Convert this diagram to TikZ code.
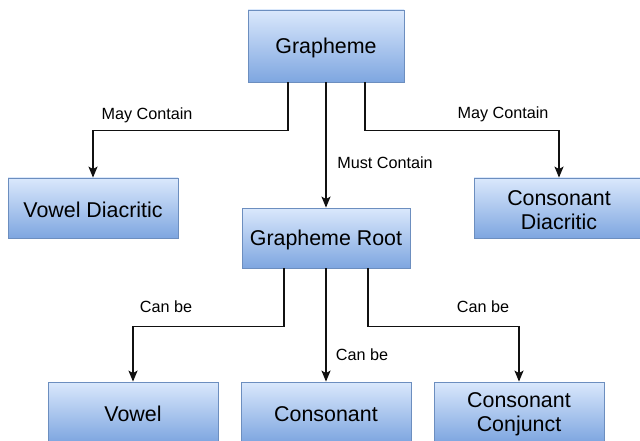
\documentclass[tikz,border=0pt]{standalone}
\usepackage{fontspec}
\setmainfont{Liberation Sans}
\usetikzlibrary{arrows.meta,calc}
\definecolor{boxtop}{HTML}{DAE8FC}
\definecolor{boxbot}{HTML}{7EA6E0}
\definecolor{boxline}{HTML}{6C8EBF}
\definecolor{lineblk}{HTML}{111111}
\tikzset{
  box/.style={draw=boxline, line width=0.8pt, top color=boxtop, bottom color=boxbot,
    minimum width=#1, inner sep=0pt},
  txt/.style={align=center, inner sep=0pt, font=\fontsize{21.4}{25}\selectfont},
  arr/.style={draw=lineblk, line width=1.6pt, -{Stealth[length=11pt,width=9pt,inset=2.5pt]}},
  lbl/.style={font=\fontsize{16.2}{19}\selectfont, inner sep=0pt, anchor=center}
}
\begin{document}
\begin{tikzpicture}[x=1pt,y=-1pt]
\clip (0,0) rectangle (640,441);
\fill[white] (0,0) rectangle (640,441);
% boxes
\node[box=156pt, minimum height=72pt] (G) at (326,46) {};
\node[box=170pt, minimum height=60pt] (VD) at (93,208) {};
\node[box=170pt, minimum height=60pt] (CD) at (559,208) {};
\node[box=168pt, minimum height=60pt] (GR) at (326,238) {};
\node[box=170pt, minimum height=60pt] (V) at (133,412) {};
\node[box=170pt, minimum height=60pt] (C) at (326,412) {};
\node[box=170pt, minimum height=60pt] (CC) at (519,412) {};
% box texts
\node[txt] (Gt) at ([yshift=-2pt]G.center) {Grapheme};
\node[txt] (VDt) at ([yshift=-2pt]VD.center) {Vowel Diacritic};
\node[txt] (CDt) at ([yshift=-2pt]CD.center) {Consonant\\[-1pt]Diacritic};
\node[txt] (GRt) at ([yshift=-2pt]GR.center) {Grapheme Root};
\node[txt] (Vt) at ([yshift=-2pt]V.center) {Vowel};
\node[txt] (Ct) at ([yshift=-2pt]C.center) {Consonant};
\node[txt] (CCt) at ([yshift=-2pt]CC.center) {Consonant\\[-1pt]Conjunct};
% connectors
\draw[arr] ([xshift=-38pt]G.south) -- ++(0,48) -| (VD.north);
\draw[arr] (G.south) -- (GR.north);
\draw[arr] ([xshift=39pt]G.south) -- ++(0,48) -| (CD.north);
\draw[arr] ([xshift=-42pt]GR.south) -- ++(0,58) -| (V.north);
\draw[arr] (GR.south) -- (C.north);
\draw[arr] ([xshift=42pt]GR.south) -- ++(0,58) -| (CC.north);
% labels
\node[lbl] (l1) at (147,115) {May Contain};
\node[lbl] (l2) at (385,163) {Must Contain};
\node[lbl] (l3) at (503,114) {May Contain};
\node[lbl] (l4) at (166,307) {Can be};
\node[lbl] (l5) at (362,355) {Can be};
\node[lbl] (l6) at (483,307) {Can be};
\end{tikzpicture}
\end{document}
